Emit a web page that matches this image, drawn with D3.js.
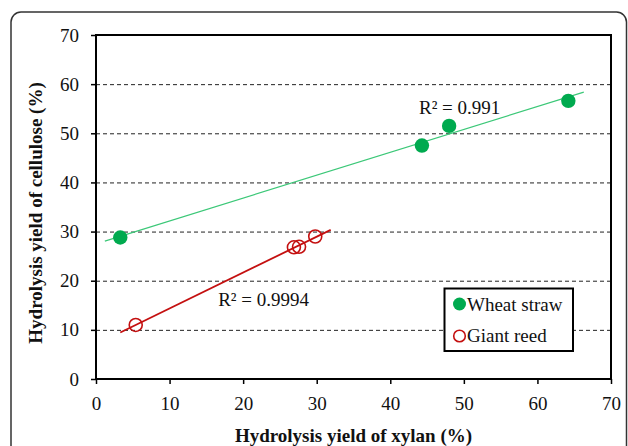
<!DOCTYPE html>
<html>
<head>
<meta charset="UTF-8">
<script src="https://d3js.org/d3.v7.min.js"></script>
<style>
  body { margin: 0; background: #fff; }
  text { font-family: "Liberation Serif", "Times New Roman", serif; fill: #111; }
  .grid line { stroke: #222; stroke-dasharray: 4,3; stroke-width: 1; }
</style>
</head>
<body>
<svg id="chart" width="628" height="446"></svg>
<script>
// data
var wheatX = [3.3, 44.3, 48.0, 64.2];
var wheatY = [28.8, 47.5, 51.5, 56.6];
var reedX = [5.4, 26.9, 27.6, 29.8];
var reedY = [11.0, 26.8, 26.9, 29.0];
var xTicks = [0, 10, 20, 30, 40, 50, 60, 70];
var yTicks = [0, 10, 20, 30, 40, 50, 60, 70];
var r2Labels = ["R\u00b2 = 0.991", "R\u00b2 = 0.9994"];

var svg = d3.select("#chart"),
    pL = 96, pR = 611, pT = 35, pB = 379;

var x = d3.scaleLinear().domain([0, 70]).range([pL, pR]);
var y = d3.scaleLinear().domain([0, 70]).range([pB, pT]);

// outer rounded frame
svg.append("rect")
    .attr("x", 11).attr("y", 12).attr("width", 615.5).attr("height", 460)
    .attr("rx", 10).attr("ry", 10)
    .attr("fill", "none").attr("stroke", "#333").attr("stroke-width", 1.5);

// dashed gridlines
svg.append("g").attr("class", "grid")
    .selectAll("line").data(yTicks.filter(function (d) { return d > 0 && d < 70; }))
    .enter().append("line")
    .attr("x1", pL).attr("x2", pR)
    .attr("y1", function (d) { return y(d) + 0.5; })
    .attr("y2", function (d) { return y(d) + 0.5; });

// axes
var xAxis = svg.append("g")
    .attr("transform", "translate(0," + pB + ")")
    .call(d3.axisBottom(x).tickValues(xTicks).tickSize(5).tickPadding(13).tickFormat(d3.format("d")));
var yAxis = svg.append("g")
    .attr("transform", "translate(" + pL + ",0)")
    .call(d3.axisLeft(y).tickValues(yTicks).tickSize(5).tickPadding(12).tickFormat(d3.format("d")));
[xAxis, yAxis].forEach(function (a) {
    a.select(".domain").remove();
    a.selectAll(".tick line").attr("stroke", "#000").attr("stroke-width", 1.5);
    a.selectAll("text").style("font-family", "Liberation Serif, serif").style("font-size", "19px").attr("fill", "#222");
});

// plot box
svg.append("rect")
    .attr("x", pL).attr("y", pT).attr("width", pR - pL).attr("height", pB - pT)
    .attr("fill", "none").attr("stroke", "#000").attr("stroke-width", 2);

// linear fits
function fit(xs, ys) {
    var mx = d3.mean(xs), my = d3.mean(ys), sxy = 0, sxx = 0;
    xs.forEach(function (v, i) { sxy += (v - mx) * (ys[i] - my); sxx += (v - mx) * (v - mx); });
    var b = sxy / sxx;
    return { b: b, a: my - b * mx };
}
function trend(xs, ys, color, width) {
    var f = fit(xs, ys), x0 = d3.min(xs) - 2.1, x1 = d3.max(xs) + 2.1;
    svg.append("line")
        .attr("x1", x(x0)).attr("y1", y(f.a + f.b * x0))
        .attr("x2", x(x1)).attr("y2", y(f.a + f.b * x1))
        .attr("stroke", color).attr("stroke-width", width);
}
trend(wheatX, wheatY, "#3cc878", 1.2);
trend(reedX, reedY, "#c41010", 1.8);

// points
svg.append("g").selectAll("circle").data(wheatX)
    .enter().append("circle")
    .attr("cx", function (d) { return x(d); })
    .attr("cy", function (d, i) { return y(wheatY[i]); })
    .attr("r", 7.2).attr("fill", "#00aa4f");
svg.append("g").selectAll("circle").data(reedX)
    .enter().append("circle")
    .attr("cx", function (d) { return x(d); })
    .attr("cy", function (d, i) { return y(reedY[i]); })
    .attr("r", 6.5).attr("fill", "none").attr("stroke", "#c41010").attr("stroke-width", 1.6);

// R² labels
svg.append("text").attr("x", x(43.9)).attr("y", y(54.0)).style("font-size", "19px").text(r2Labels[0]);
svg.append("text").attr("x", x(16.6)).attr("y", y(14.9)).style("font-size", "19px").text(r2Labels[1]);

// axis titles
svg.append("text")
    .attr("x", (pL + pR) / 2).attr("y", 442)
    .attr("text-anchor", "middle")
    .style("font-size", "19px").style("font-weight", "bold")
    .text("Hydrolysis yield of xylan (%)");
svg.append("text")
    .attr("transform", "translate(42,213) rotate(-90)")
    .attr("text-anchor", "middle")
    .style("font-size", "19px").style("font-weight", "bold")
    .text("Hydrolysis yield of cellulose (%)");

// legend
var lg = svg.append("g");
lg.append("rect").attr("x", 444.5).attr("y", 288.5).attr("width", 128.5).attr("height", 62.5)
    .attr("fill", "#fff").attr("stroke", "#000").attr("stroke-width", 2);
lg.append("circle").attr("cx", 459.5).attr("cy", 304).attr("r", 6.5).attr("fill", "#00aa4f");
lg.append("circle").attr("cx", 459.5).attr("cy", 336).attr("r", 5.8)
    .attr("fill", "none").attr("stroke", "#c41010").attr("stroke-width", 1.6);
lg.append("text").attr("x", 467).attr("y", 310.5).style("font-size", "19px").text("Wheat straw");
lg.append("text").attr("x", 467).attr("y", 342).style("font-size", "19px").text("Giant reed");
</script>
</body>
</html>
